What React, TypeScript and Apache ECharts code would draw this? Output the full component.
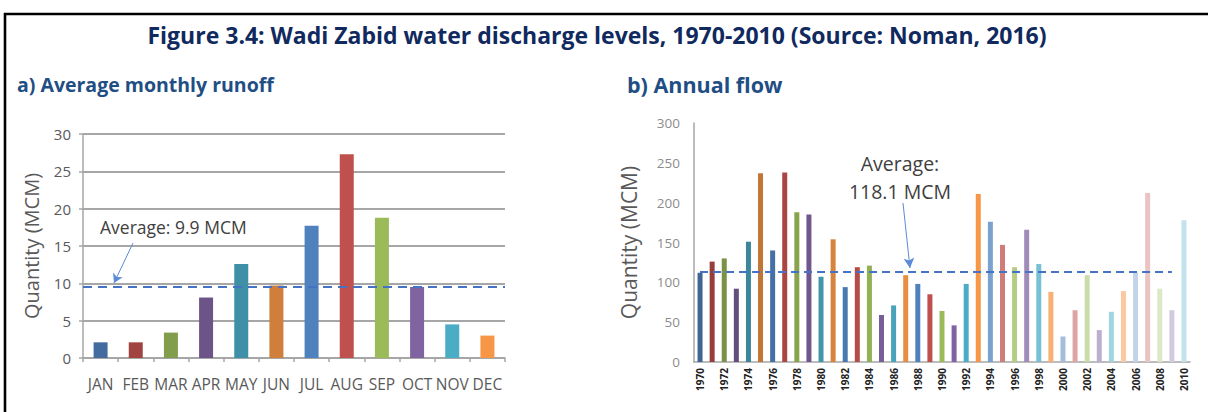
import React, { useEffect, useRef } from "react";
import * as echarts from "echarts";

const months = ["JAN", "FEB", "MAR", "APR", "MAY", "JUN", "JUL", "AUG", "SEP", "OCT", "NOV", "DEC"];
const monthlyRunoff = [2.1, 2.1, 3.4, 8.1, 12.6, 9.7, 17.7, 27.3, 18.8, 9.5, 4.5, 3.0];
const monthlyAverageDrawn = 9.5;
const monthlyAverageLabel = "Average: 9.9 MCM";

const years = [
  "1970", "1971", "1972", "1973", "1974", "1975", "1976", "1977", "1978", "1979",
  "1980", "1981", "1982", "1983", "1984", "1985", "1986", "1987", "1988", "1989",
  "1990", "1991", "1992", "1993", "1994", "1995", "1996", "1997", "1998", "1999",
  "2000", "2001", "2002", "2003", "2004", "2005", "2006", "2007", "2008", "2009",
  "2010",
];
const annualFlow = [
  112, 126, 130, 92, 151, 237, 140, 238, 188, 185,
  107, 154, 94, 119, 121, 59, 71, 109, 98, 85,
  64, 46, 98, 211, 176, 147, 119, 166, 123, 88,
  32, 65, 109, 40, 63, 89, 112, 212, 92, 65,
  178,
];
const annualAverageDrawn = 113;
const annualAverageLabel = ["Average:", "118.1 MCM"];

const leftTicks = [0, 5, 10, 15, 20, 25, 30];
const rightTicks = [0, 50, 100, 150, 200, 250, 300];

const TITLE = "Figure 3.4: Wadi Zabid water discharge levels, 1970-2010 (Source: Noman, 2016)";
const SUB_A = "a) Average monthly runoff";
const SUB_B = "b) Annual flow";

const basePalette = ["#4F81BD", "#C0504D", "#9BBB59", "#8064A2", "#4BACC6", "#F79646"];

function adjust(hex: string, mode: "shade" | "tint" | "base", amt: number) {
  const n = parseInt(hex.slice(1), 16);
  const rgb = [(n >> 16) & 255, (n >> 8) & 255, n & 255].map((c) => {
    if (mode === "shade") return Math.round(c * amt);
    if (mode === "tint") return Math.round(c + (255 - c) * amt);
    return c;
  });
  return "#" + rgb.map((c) => c.toString(16).padStart(2, "0")).join("");
}

const leftGroups: Array<["shade" | "tint" | "base", number]> = [["shade", 0.84], ["base", 1]];
const rightGroups: Array<["shade" | "tint" | "base", number]> = [
  ["shade", 0.78], ["shade", 0.87], ["shade", 0.94], ["base", 1], ["tint", 0.25], ["tint", 0.48], ["tint", 0.66],
];

function colorFor(i: number, groups: Array<["shade" | "tint" | "base", number]>) {
  const g = groups[Math.min(Math.floor(i / 6), groups.length - 1)];
  return adjust(basePalette[i % 6], g[0], g[1]);
}

const axisGray = "#A6A6A6";
const labelGray = "#595959";
const font = "'Open Sans', sans-serif";

export default function App() {
  const ref = useRef<HTMLDivElement>(null);
  useEffect(() => {
    if (!ref.current) return;
    const chart = echarts.init(ref.current, undefined, { renderer: "svg" });
    const option: any = {
      animation: false,
      textStyle: { fontFamily: font },
      graphic: [
        {
          type: "polyline",
          shape: { points: [[5, 420], [5, 14], [1215, 14]] },
          style: { stroke: "#000", lineWidth: 2.6, fill: "none" },
          silent: true,
        },
        {
          type: "text",
          x: 597,
          y: 35,
          style: {
            text: TITLE, fill: "#10295E", fontSize: 23, fontWeight: "bold", fontFamily: font,
            align: "center", verticalAlign: "middle",
          },
        },
        {
          type: "text",
          x: 17,
          y: 84,
          style: {
            text: SUB_A, fill: "#1F4E85", fontSize: 19.5, fontWeight: "bold", fontFamily: font,
            align: "left", verticalAlign: "middle",
          },
        },
        {
          type: "text",
          x: 627,
          y: 84,
          style: {
            text: SUB_B, fill: "#1F4E85", fontSize: 21.5, fontWeight: "bold", fontFamily: font,
            align: "left", verticalAlign: "middle",
          },
        },
        {
          type: "text",
          x: 100,
          y: 227,
          style: {
            text: monthlyAverageLabel, fill: "#404040", fontSize: 17.5, fontFamily: font,
            align: "left", verticalAlign: "middle",
          },
        },
        {
          type: "text",
          x: 900,
          y: 163,
          style: {
            text: annualAverageLabel[0], fill: "#404040", fontSize: 19.5, fontFamily: font,
            align: "center", verticalAlign: "middle",
          },
        },
        {
          type: "text",
          x: 900,
          y: 191,
          style: {
            text: annualAverageLabel[1], fill: "#404040", fontSize: 19.5, fontFamily: font,
            align: "center", verticalAlign: "middle",
          },
        },
      ],
      grid: [
        { left: 83, top: 134, width: 422, height: 224, containLabel: false },
        { left: 694, top: 123, width: 496, height: 239, containLabel: false },
      ],
      xAxis: [
        {
          gridIndex: 0,
          type: "category",
          data: months,
          boundaryGap: true,
          axisLine: { lineStyle: { color: axisGray, width: 1.5 } },
          axisTick: { show: true, length: 4, lineStyle: { color: axisGray, width: 1.5 } },
          axisLabel: { color: labelGray, fontSize: 15.5, margin: 18, interval: 0 },
        },
        {
          gridIndex: 1,
          type: "category",
          data: years,
          boundaryGap: true,
          axisLine: { lineStyle: { color: axisGray, width: 1.5 } },
          axisTick: { show: false },
          axisLabel: { color: "#222", fontSize: 10, fontWeight: "bold", rotate: 90, interval: 1, margin: 6 },
        },
      ],
      yAxis: [
        {
          gridIndex: 0,
          type: "value",
          min: leftTicks[0],
          max: leftTicks[leftTicks.length - 1],
          interval: leftTicks[1] - leftTicks[0],
          name: "Quantity (MCM)",
          nameLocation: "middle",
          nameRotate: 90,
          nameGap: 42,
          nameTextStyle: { color: labelGray, fontSize: 20, fontFamily: font },
          axisLine: { show: true, lineStyle: { color: axisGray, width: 1.5 } },
          axisTick: { show: true, length: 4, lineStyle: { color: axisGray, width: 1.5 } },
          splitLine: { show: true, lineStyle: { color: axisGray, width: 2 } },
          axisLabel: { color: labelGray, fontSize: 15, margin: 12 },
        },
        {
          gridIndex: 1,
          type: "value",
          min: rightTicks[0],
          max: rightTicks[rightTicks.length - 1],
          interval: rightTicks[1] - rightTicks[0],
          name: "Quantity (MCM)",
          nameLocation: "middle",
          nameRotate: 90,
          nameGap: 55,
          nameTextStyle: { color: labelGray, fontSize: 21, fontFamily: font },
          axisLine: { show: true, lineStyle: { color: axisGray, width: 1.5 } },
          axisTick: { show: false },
          splitLine: { show: false },
          axisLabel: { color: "#8C8C8C", fontSize: 13.5, margin: 14 },
        },
      ],
      series: [
        {
          type: "bar",
          xAxisIndex: 0,
          yAxisIndex: 0,
          barWidth: 14,
          data: monthlyRunoff.map((v, i) => ({ value: v, itemStyle: { color: colorFor(i, leftGroups) } })),
          markLine: {
            silent: true,
            symbol: ["none", "none"],
            label: { show: false },
            lineStyle: { color: "#4472C4", type: [9, 6], width: 2 },
            data: [
              { yAxis: monthlyAverageDrawn },
              [
                { x: 133, y: 243, symbol: "none", lineStyle: { type: "solid", width: 1, color: "#5B8BD6" } },
                { x: 114, y: 283, symbol: "arrow", symbolSize: [8, 9] },
              ],
            ],
          },
        },
        {
          type: "bar",
          xAxisIndex: 1,
          yAxisIndex: 1,
          barWidth: 5,
          data: annualFlow.map((v, i) => ({ value: v, itemStyle: { color: colorFor(i, rightGroups) } })),
          markLine: {
            silent: true,
            symbol: ["none", "none"],
            label: { show: false },
            lineStyle: { color: "#4472C4", type: [8, 5], width: 2 },
            data: [
              [{ coord: [0, annualAverageDrawn] }, { coord: [39, annualAverageDrawn] }],
              [
                { x: 903, y: 203, symbol: "none", lineStyle: { type: "solid", width: 1, color: "#5B8BD6" } },
                { x: 910, y: 268, symbol: "arrow", symbolSize: [8, 10] },
              ],
            ],
          },
        },
      ],
    };
    chart.setOption(option);
    return () => chart.dispose();
  }, []);
  return (
    <div
      ref={ref}
      style={{ position: "fixed", left: 0, top: 0, width: 1208, height: 412, background: "#fff" }}
    />
  );
}
